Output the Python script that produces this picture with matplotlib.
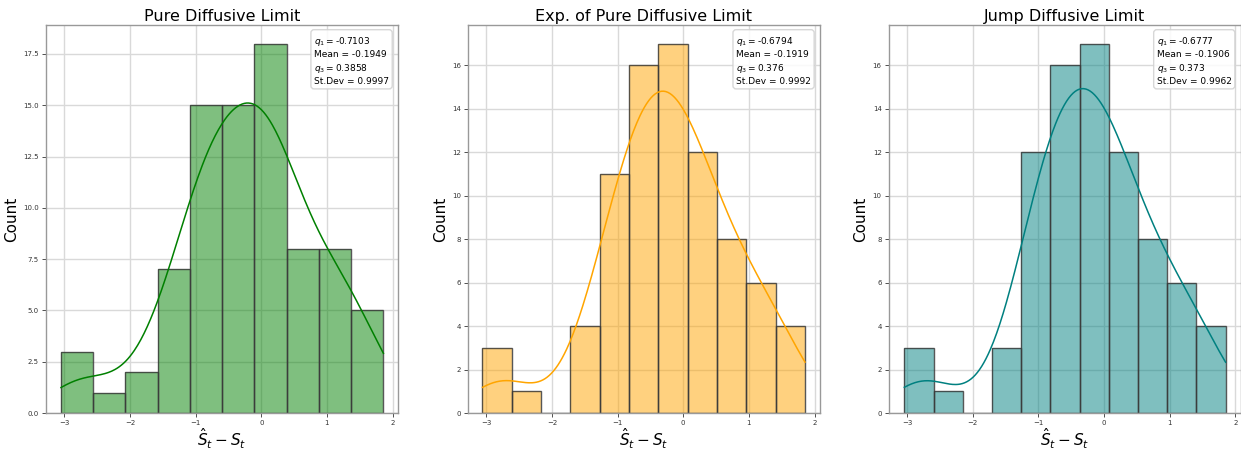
import numpy as np
import matplotlib
matplotlib.use("Agg")
import matplotlib.pyplot as plt

# histogram bins (counts per bin, n = 82 in each)
titles = ['Pure Diffusive Limit', 'Exp. of Pure Diffusive Limit', 'Jump Diffusive Limit']
colors = ['green', 'orange', 'teal']
x_min = [-3.05, -3.057, -3.04]
x_max = [1.86, 1.855, 1.853]
counts_pure = [3, 1, 2, 7, 15, 15, 18, 8, 8, 5]
counts_exp = [3, 1, 0, 4, 11, 16, 17, 12, 8, 6, 4]
counts_jump = [3, 1, 0, 3, 12, 16, 17, 12, 8, 6, 4]
all_counts = [counts_pure, counts_exp, counts_jump]
# summary stats shown in the boxes
q1 = ['-0.7103', '-0.6794', '-0.6777']
means = ['-0.1949', '-0.1919', '-0.1906']
q3 = ['0.3858', '0.376', '0.373']
stdevs = ['0.9997', '0.9992', '0.9962']

fig = plt.figure(figsize=(12.41, 4.49), dpi=100)
lefts = [0.037, 0.377, 0.716]

for i in range(3):
    ax = fig.add_axes([lefts[i], 0.080, 0.2836, 0.864])
    c = np.array(all_counts[i], dtype=float)
    edges = np.linspace(x_min[i], x_max[i], len(c) + 1)
    w = edges[1] - edges[0]
    ax.set_axisbelow(True)
    ax.grid(True, color='#d9d9d9', linewidth=1)
    ax.bar(edges[:-1], c, width=w, align='edge', color=colors[i], alpha=0.5,
           edgecolor='none')
    ax.bar(edges[:-1], c, width=w, align='edge', facecolor='none',
           edgecolor='#3a3a3a', linewidth=1, alpha=0.85)

    # gaussian kde from weighted bin centres, scaled to counts
    centers = (edges[:-1] + edges[1:]) / 2
    n = c.sum()
    mu = (c * centers).sum() / n
    sd = np.sqrt((c * (centers - mu) ** 2).sum() / n)
    bw = 1.12 * sd * n ** (-1 / 5)
    xs = np.linspace(x_min[i], x_max[i], 300)
    dens = (c[None, :] * np.exp(-0.5 * ((xs[:, None] - centers[None, :]) / bw) ** 2)).sum(1)
    dens = dens / (n * bw * np.sqrt(2 * np.pi))
    ax.plot(xs, dens * n * w, color=colors[i], linewidth=1.1)

    ax.set_xlim(-3.28, 2.08)
    ax.set_ylim(0, c.max() * 1.05)
    ax.set_xticks([-3, -2, -1, 0, 1, 2])
    ax.tick_params(labelsize=5, length=3, width=0.6, pad=2, colors='#333333')
    for s in ax.spines.values():
        s.set_color('#999999')
        s.set_linewidth(1)
    ax.set_title(titles[i], fontsize=11.5, pad=3)
    ax.set_ylabel('Count', fontsize=11, labelpad=3)
    ax.set_xlabel(r'$\hat{S}_t - S_t$', fontsize=11, labelpad=0)

    txt = '$q_1 = $' + q1[i] + '\nMean = ' + means[i] + '\n$q_3 = $' + q3[i] + '\nSt.Dev = ' + stdevs[i]
    ax.text(0.975, 0.975, txt, transform=ax.transAxes, ha='right', va='top',
            multialignment='left', fontsize=6.5, linespacing=1.3,
            bbox=dict(boxstyle='round,pad=0.35', facecolor='white',
                      edgecolor='#d0d0d0', alpha=0.85))

fig.savefig('out.png', dpi=100)
